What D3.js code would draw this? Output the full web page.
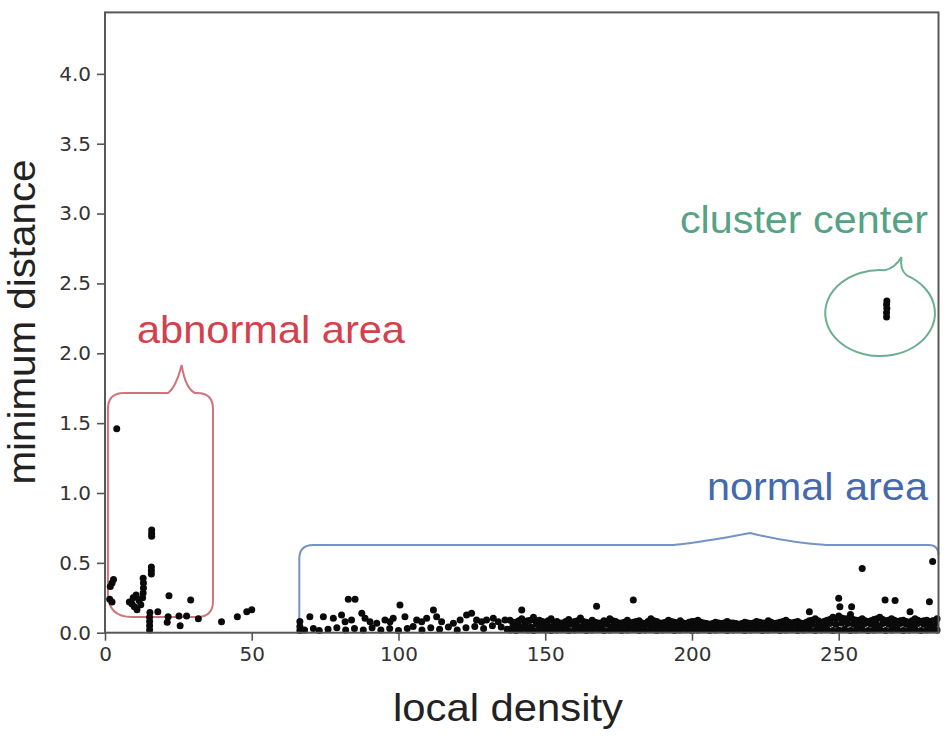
<!DOCTYPE html>
<html>
<head>
<meta charset="utf-8">
<script src="https://cdn.jsdelivr.net/npm/d3@7"></script>
<style>
  body { margin: 0; background: #fff; }
</style>
</head>
<body>
<script>
// tick values
var xTicks = [0, 50, 100, 150, 200, 250];
var yTicks = [0, 0.5, 1.0, 1.5, 2.0, 2.5, 3.0, 3.5, 4.0];

// points: [local density, minimum distance]
var centerPts = [[266.3, 2.26], [266.3, 2.29], [266.4, 2.32], [266.3, 2.35], [266.4, 2.375]];

var abnormalPts = [
  [4.0, 1.46],
  [15.9, 0.735], [15.9, 0.71], [15.9, 0.69],
  [15.8, 0.47], [15.8, 0.445], [15.8, 0.42],
  [2.9, 0.38], [2.4, 0.355], [1.8, 0.33], [1.6, 0.24], [2.4, 0.22],
  [13.0, 0.39], [13.1, 0.355], [13.1, 0.32], [13.0, 0.285], [12.8, 0.25],
  [8.3, 0.22], [9.2, 0.205], [10.0, 0.185], [10.9, 0.165], [9.6, 0.25], [10.6, 0.27], [11.6, 0.23], [12.2, 0.2],
  [21.8, 0.265], [29.2, 0.234],
  [15.3, 0.145], [15.2, 0.11], [15.2, 0.08], [15.2, 0.05], [15.2, 0.02],
  [18.0, 0.15], [21.5, 0.115], [21.2, 0.075], [25.6, 0.05], [25.2, 0.12], [27.8, 0.12], [31.8, 0.1],
  [39.7, 0.079], [45.1, 0.115], [48.3, 0.15], [50.0, 0.165]
];

var sparsePts = [
  [66.4, 0.08], [66.4, 0.045], [66.4, 0.015],
  [69.8, 0.115], [74.4, 0.115], [77.8, 0.103], [80.6, 0.127], [81.8, 0.079], [84.0, 0.091], [87.5, 0.139],
  [88.6, 0.103], [90.3, 0.079], [92.6, 0.067], [95.4, 0.091], [97.1, 0.079], [98.2, 0.103], [100.5, 0.198],
  [102.2, 0.115], [106.2, 0.091], [107.9, 0.079], [109.6, 0.103], [111.9, 0.163], [113.0, 0.115], [114.7, 0.079],
  [118.7, 0.067], [121.0, 0.091], [123.2, 0.127], [124.9, 0.139], [126.6, 0.091], [128.3, 0.079], [130.0, 0.091],
  [132.3, 0.103], [134.0, 0.079], [136.3, 0.091], [82.9, 0.239], [85.2, 0.239],
  [68, 0.02], [71, 0.03], [73, 0.015], [76, 0.025], [79, 0.035], [82, 0.02], [85, 0.03], [88, 0.02], [91, 0.035],
  [94, 0.02], [97, 0.03], [100, 0.015], [103, 0.03], [105, 0.045], [108, 0.02], [111, 0.035], [114, 0.025],
  [117, 0.04], [120, 0.02], [123, 0.035], [126, 0.045], [129, 0.03], [132, 0.05], [135, 0.04], [137, 0.025]
];

var outlierPts = [
  [142, 0.163], [167.5, 0.19], [180, 0.234], [240, 0.15], [250, 0.246], [250.4, 0.186], [254.4, 0.186],
  [258, 0.46], [282, 0.51], [265.8, 0.234], [269.2, 0.23], [274.3, 0.15], [280.9, 0.222]
];

var bandTop = [
  [138, 0.09], [140, 0.075], [142, 0.1], [144, 0.085], [146, 0.11], [148, 0.09], [150, 0.075], [152, 0.1],
  [154, 0.08], [156, 0.07], [158, 0.095], [160, 0.08], [162, 0.105], [164, 0.075], [166, 0.09], [168, 0.07],
  [170, 0.085], [172, 0.1], [174, 0.08], [176, 0.07], [178, 0.09], [180, 0.075], [182, 0.085], [184, 0.065],
  [186, 0.1], [188, 0.08], [190, 0.07], [192, 0.09], [194, 0.075], [196, 0.085], [198, 0.065], [200, 0.08],
  [202, 0.09], [204, 0.07], [206, 0.06], [208, 0.075], [210, 0.065], [212, 0.08], [214, 0.07], [216, 0.06],
  [218, 0.075], [220, 0.065], [222, 0.08], [224, 0.07], [226, 0.085], [228, 0.065], [230, 0.075], [232, 0.09],
  [234, 0.07], [236, 0.08], [238, 0.065], [240, 0.085], [242, 0.1], [244, 0.075], [246, 0.09], [248, 0.11],
  [250, 0.12], [252, 0.1], [254, 0.13], [256, 0.09], [258, 0.1], [260, 0.08], [262, 0.095], [264, 0.11],
  [266, 0.085], [268, 0.1], [270, 0.08], [272, 0.09], [274, 0.075], [276, 0.1], [278, 0.08], [280, 0.09],
  [282, 0.085], [283.5, 0.1]
];

var bandUpper = [
  [139, 0.075], [141, 0.085], [143, 0.08], [145, 0.09], [147, 0.075], [149, 0.08], [151, 0.085], [153, 0.075],
  [155, 0.07], [157, 0.08], [159, 0.075], [161, 0.085], [163, 0.08], [165, 0.07], [167, 0.075], [169, 0.07],
  [171, 0.08], [173, 0.085], [175, 0.07], [177, 0.075], [179, 0.07], [181, 0.08], [183, 0.07], [185, 0.08],
  [187, 0.085], [189, 0.07], [191, 0.075], [193, 0.08], [195, 0.07], [197, 0.07], [199, 0.075], [201, 0.08],
  [203, 0.075], [205, 0.065], [207, 0.065], [209, 0.07], [211, 0.07], [213, 0.07], [215, 0.065], [217, 0.065],
  [219, 0.07], [221, 0.07], [223, 0.075], [225, 0.07], [227, 0.075], [229, 0.07], [231, 0.08], [233, 0.075],
  [235, 0.075], [237, 0.07], [239, 0.075], [241, 0.09], [243, 0.085], [245, 0.08], [247, 0.095], [249, 0.1],
  [251, 0.105], [253, 0.1], [255, 0.095], [257, 0.09], [259, 0.085], [261, 0.085], [263, 0.1], [265, 0.095],
  [267, 0.09], [269, 0.09], [271, 0.085], [273, 0.08], [275, 0.085], [277, 0.09], [279, 0.085], [281, 0.08],
  [283, 0.09]
];

var bandMid = [
  [139, 0.05], [141, 0.045], [143, 0.055], [145, 0.04], [147, 0.06], [149, 0.05], [151, 0.045], [153, 0.055],
  [155, 0.04], [157, 0.05], [159, 0.06], [161, 0.045], [163, 0.05], [165, 0.055], [167, 0.04], [169, 0.05],
  [171, 0.06], [173, 0.045], [175, 0.05], [177, 0.04], [179, 0.055], [181, 0.05], [183, 0.045], [185, 0.06],
  [187, 0.05], [189, 0.04], [191, 0.055], [193, 0.045], [195, 0.05], [197, 0.04], [199, 0.055], [201, 0.05],
  [203, 0.045], [205, 0.04], [207, 0.05], [209, 0.045], [211, 0.055], [213, 0.04], [215, 0.05], [217, 0.045],
  [219, 0.04], [221, 0.05], [223, 0.045], [225, 0.055], [227, 0.04], [229, 0.05], [231, 0.055], [233, 0.045],
  [235, 0.05], [237, 0.04], [239, 0.055], [241, 0.06], [243, 0.05], [245, 0.055], [247, 0.065], [249, 0.06],
  [251, 0.07], [253, 0.065], [255, 0.06], [257, 0.055], [259, 0.065], [261, 0.06], [263, 0.055], [265, 0.065],
  [267, 0.06], [269, 0.055], [271, 0.065], [273, 0.06], [275, 0.055], [277, 0.065], [279, 0.06], [281, 0.055],
  [283, 0.065]
];

var bandLow = [
  [138, 0.02], [140, 0.015], [142, 0.025], [144, 0.02], [146, 0.015], [148, 0.025], [150, 0.02], [152, 0.015],
  [154, 0.02], [156, 0.025], [158, 0.015], [160, 0.02], [162, 0.025], [164, 0.015], [166, 0.02], [168, 0.025],
  [170, 0.015], [172, 0.02], [174, 0.025], [176, 0.015], [178, 0.02], [180, 0.025], [182, 0.015], [184, 0.02],
  [186, 0.025], [188, 0.015], [190, 0.02], [192, 0.025], [194, 0.015], [196, 0.02], [198, 0.025], [200, 0.015],
  [202, 0.02], [204, 0.025], [206, 0.015], [208, 0.02], [210, 0.025], [212, 0.015], [214, 0.02], [216, 0.025],
  [218, 0.015], [220, 0.02], [222, 0.025], [224, 0.015], [226, 0.02], [228, 0.025], [230, 0.015], [232, 0.02],
  [234, 0.025], [236, 0.015], [238, 0.02], [240, 0.025], [242, 0.015], [244, 0.02], [246, 0.025], [248, 0.015],
  [250, 0.02], [252, 0.025], [254, 0.015], [256, 0.02], [258, 0.025], [260, 0.015], [262, 0.02], [264, 0.025],
  [266, 0.015], [268, 0.02], [270, 0.025], [272, 0.015], [274, 0.02], [276, 0.025], [278, 0.015], [280, 0.02],
  [282, 0.025], [283.5, 0.02]
];

var allPts = [].concat(abnormalPts, sparsePts, bandLow, bandMid, bandUpper, bandTop, outlierPts, centerPts);

var width = 950;
var height = 738;

var x = d3.scaleLinear().domain([0, 284]).range([105, 938.5]);
var y = d3.scaleLinear().domain([0, 4.44]).range([632.7, 12.4]);

var svg = d3.select('body').append('svg')
            .attr('width', width)
            .attr('height', height)
            .style('background', '#fff');

// ---- callouts (drawn under the dots)
// red: rounded box with a spike on top
var rb = {x0: 1.0, x1: 36.8, y0: 1.716, y1: 0.112, pl: 21.5, pk: 26.1, pky: 1.916, pr: 30.7};
var p = d3.path(), r = 16;
var rx0 = x(rb.x0), rx1 = x(rb.x1), ry0 = y(rb.y0), ry1 = y(rb.y1);
p.moveTo(rx0, ry0 + r);
p.quadraticCurveTo(rx0, ry0, rx0 + r, ry0);
p.lineTo(x(rb.pl), ry0);
p.quadraticCurveTo(x(rb.pl) + 8, ry0 - 6, x(rb.pk), y(rb.pky));
p.quadraticCurveTo(x(rb.pk) + 4, ry0 - 4, x(rb.pr), ry0);
p.lineTo(rx1 - r, ry0);
p.quadraticCurveTo(rx1, ry0, rx1, ry0 + r);
p.lineTo(rx1, ry1 - r);
p.quadraticCurveTo(rx1, ry1, rx1 - r, ry1);
p.lineTo(rx0 + 24, ry1);
p.quadraticCurveTo(rx0, ry1, rx0, ry1 - 24);
p.closePath();
svg.append('path').attr('d', p.toString())
   .style('fill', 'none').style('stroke', '#d2737b').style('stroke-width', 2);

// blue: box along the bottom with a soft bump on top
var bb = {x0: 66.2, x1: 284, y0: 0.628, b1: 193.5, bk: 219.8, bky: 0.714, b2: 245.9};
var q = d3.path(), r2 = 14;
var bx0 = x(bb.x0), bx1 = x(bb.x1), by0 = y(bb.y0);
q.moveTo(bx0, y(0));
q.lineTo(bx0, by0 + r2);
q.quadraticCurveTo(bx0, by0, bx0 + r2, by0);
q.lineTo(x(bb.b1), by0);
q.quadraticCurveTo(x(bb.b1) + 30, by0 - 3, x(bb.bk), y(bb.bky));
q.quadraticCurveTo(x(bb.bk) + 40, by0 - 2, x(bb.b2), by0);
q.lineTo(bx1 - 10, by0);
q.quadraticCurveTo(bx1, by0, bx1, by0 + 10);
svg.append('path').attr('d', q.toString())
   .style('fill', 'none').style('stroke', '#7393c4').style('stroke-width', 2);

// green: ellipse with a small spike
var ge = {cx: 264.1, cy: 2.288, rx: 18.7, ry: 0.308, a1: 85, pkx: 271.4, pky: 2.689, a2: 61};
var ecx = x(ge.cx), ecy = y(ge.cy);
var erx = x(ge.cx + ge.rx) - ecx, ery = ecy - y(ge.cy + ge.ry);
var l1 = [ecx + erx * Math.cos(ge.a1 * Math.PI / 180), ecy - ery * Math.sin(ge.a1 * Math.PI / 180)];
var l2 = [ecx + erx * Math.cos(ge.a2 * Math.PI / 180), ecy - ery * Math.sin(ge.a2 * Math.PI / 180)];
var gpath = 'M' + l1[0] + ',' + l1[1] +
            'Q' + (l1[0] + 10) + ',' + (l1[1] - 2) + ' ' + x(ge.pkx) + ',' + y(ge.pky) +
            'Q' + (x(ge.pkx) - 2) + ',' + (l2[1] - 6) + ' ' + l2[0] + ',' + l2[1] +
            'A' + erx + ',' + ery + ' 0 1 1 ' + l1[0] + ',' + l1[1];
svg.append('path').attr('d', gpath)
   .style('fill', 'none').style('stroke', '#6caf90').style('stroke-width', 2);

// ---- points
svg.append('g').selectAll('circle')
   .data(allPts)
   .enter().append('circle')
   .attr('cx', function(d){ return x(d[0]); })
   .attr('cy', function(d){ return y(d[1]); })
   .attr('r', 3.5)
   .style('fill', '#0a0a0a');

// ---- axes
var xAxis = d3.axisBottom(x).tickValues(xTicks).tickSize(8).tickPadding(6).tickFormat(d3.format('d'));
var yAxis = d3.axisLeft(y).tickValues(yTicks).tickSize(8).tickPadding(6).tickFormat(d3.format('.1f'));

var gx = svg.append('g').attr('transform', 'translate(0,' + y(0) + ')').call(xAxis);
var gy = svg.append('g').attr('transform', 'translate(' + x(0) + ',0)').call(yAxis);
[gx, gy].forEach(function(g){
  g.select('.domain').remove();
  g.selectAll('line').style('stroke', '#555').style('stroke-width', 1.6);
  g.selectAll('text').style('font-family', '"DejaVu Sans", sans-serif').style('font-size', '20px').style('fill', '#333');
});

// frame
svg.append('rect')
   .attr('x', x(0)).attr('y', y(4.44))
   .attr('width', x(284) - x(0)).attr('height', y(0) - y(4.44))
   .style('fill', 'none').style('stroke', '#585858').style('stroke-width', 2);

// ---- labels
svg.append('text')
   .attr('transform', 'translate(35,322) rotate(-90)')
   .attr('text-anchor', 'middle')
   .attr('textLength', 325).attr('lengthAdjust', 'spacingAndGlyphs')
   .style('font-family', '"Liberation Sans", Arial, sans-serif').style('font-size', '38px').style('fill', '#222')
   .text('minimum distance');

svg.append('text')
   .attr('x', 393).attr('y', 721)
   .attr('textLength', 230).attr('lengthAdjust', 'spacingAndGlyphs')
   .style('font-family', '"Liberation Sans", Arial, sans-serif').style('font-size', '39px').style('fill', '#222')
   .text('local density');

svg.append('text')
   .attr('x', x(10.9)).attr('y', y(2.074))
   .attr('textLength', 268).attr('lengthAdjust', 'spacingAndGlyphs')
   .style('font-family', '"Liberation Sans", Arial, sans-serif').style('font-size', '39px').style('fill', '#d4404c')
   .text('abnormal area');

svg.append('text')
   .attr('x', x(280.4) - 248).attr('y', y(2.861))
   .attr('textLength', 248).attr('lengthAdjust', 'spacingAndGlyphs')
   .style('font-family', '"Liberation Sans", Arial, sans-serif').style('font-size', '38px').style('fill', '#55a383')
   .text('cluster center');

svg.append('text')
   .attr('x', x(280.4) - 221).attr('y', y(0.95))
   .attr('textLength', 221).attr('lengthAdjust', 'spacingAndGlyphs')
   .style('font-family', '"Liberation Sans", Arial, sans-serif').style('font-size', '38px').style('fill', '#4469ad')
   .text('normal area');
</script>
</body>
</html>
